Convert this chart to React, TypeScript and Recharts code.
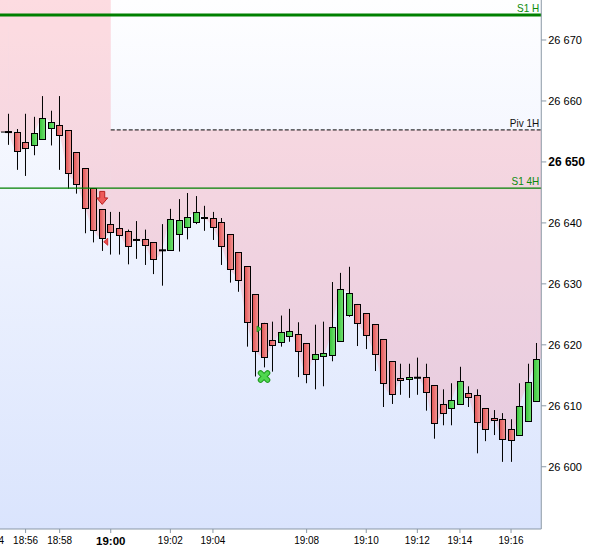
import React from 'react';
import { ComposedChart, XAxis, YAxis, Bar, Area, Scatter, ReferenceLine, ReferenceArea } from 'recharts';

// one bar per entry, oldest first
const opens = [
  26654.9, 26654.9, 26653.2, 26652.7, 26653.7, 26655.5, 26656.0, 26655.2, 26651.6, 26649.0,
  26645.7, 26642.2, 26639.8, 26639.1, 26638.6, 26637.2, 26637.3, 26636.8, 26635.5, 26635.5,
  26638.1, 26639.3, 26640.1, 26640.8, 26640.8, 26640.1, 26638.1, 26635.2, 26632.9, 26628.3,
  26623.6, 26620.8, 26620.4, 26621.3, 26621.8, 26620.3, 26617.7, 26618.1, 26618.3, 26620.6,
  26624.9, 26626.7, 26625.2, 26623.4, 26620.9, 26617.3, 26614.5, 26614.4, 26614.6, 26614.7,
  26613.4, 26610.3, 26609.6, 26610.3, 26612.1, 26611.8, 26609.6, 26608.0, 26607.8, 26606.2,
  26605.2, 26607.5, 26610.8,
];
const highs = [
  26657.9, 26655.4, 26657.9, 26657.4, 26660.8, 26658.4, 26660.8, 26655.2, 26651.6, 26649.0,
  26645.7, 26642.2, 26641.8, 26641.8, 26638.9, 26640.3, 26638.9, 26636.8, 26639.8, 26642.3,
  26643.9, 26644.9, 26644.4, 26642.8, 26641.8, 26640.8, 26638.1, 26635.2, 26632.9, 26628.3,
  26623.6, 26623.8, 26624.8, 26625.9, 26623.7, 26620.3, 26623.3, 26623.8, 26630.3, 26631.8,
  26632.8, 26626.7, 26625.2, 26623.4, 26620.9, 26617.3, 26616.9, 26616.9, 26617.9, 26616.9,
  26613.4, 26612.7, 26613.7, 26616.4, 26613.2, 26612.7, 26609.6, 26609.3, 26608.8, 26607.8,
  26613.7, 26616.9, 26620.3,
];
const lows = [
  26652.8, 26648.7, 26647.7, 26651.1, 26653.7, 26652.7, 26648.7, 26645.6, 26644.8, 26638.3,
  26636.8, 26635.4, 26634.8, 26634.8, 26633.2, 26634.1, 26633.1, 26631.6, 26629.7, 26635.5,
  26635.3, 26637.3, 26639.8, 26638.7, 26637.2, 26633.1, 26630.2, 26628.7, 26619.7, 26614.8,
  26616.3, 26615.6, 26619.7, 26620.5, 26614.7, 26613.7, 26612.7, 26613.2, 26617.3, 26620.6,
  26624.6, 26619.8, 26619.3, 26615.7, 26609.8, 26610.3, 26611.8, 26611.3, 26611.8, 26609.2,
  26604.6, 26606.8, 26606.8, 26610.3, 26609.8, 26602.2, 26604.2, 26605.2, 26600.8, 26600.8,
  26605.2, 26607.5, 26610.8,
];
const closes = [
  26654.9, 26651.8, 26652.2, 26654.7, 26657.2, 26656.5, 26654.4, 26648.1, 26646.4, 26642.4,
  26638.8, 26637.5, 26638.5, 26638.0, 26636.2, 26637.2, 26636.3, 26634.0, 26635.5, 26640.6,
  26640.4, 26640.9, 26641.8, 26640.8, 26639.3, 26636.2, 26632.4, 26630.6, 26623.7, 26619.0,
  26618.0, 26620.0, 26622.1, 26622.2, 26619.0, 26615.2, 26618.5, 26618.6, 26622.9, 26629.1,
  26628.5, 26623.6, 26621.6, 26618.5, 26613.7, 26611.9, 26614.2, 26614.7, 26614.6, 26612.2,
  26607.2, 26608.8, 26610.9, 26614.0, 26611.4, 26607.3, 26606.2, 26607.7, 26604.5, 26604.4,
  26610.0, 26613.9, 26617.7,
];

// time labels sit on the first bar of each minute
const tickBars = [-2, 2, 6, 12, 19, 24, 35, 42, 48, 53, 59];
const tickLabels = ['18:54', '18:56', '18:58', '19:00', '19:02', '19:04', '19:08', '19:10', '19:12', '19:14', '19:16'];
const priceTicks = [26600, 26610, 26620, 26630, 26640, 26650, 26660, 26670];

// pivot levels
const levelNames = ['S1 H', 'Piv 1H', 'S1 4H'];
const levelPrices = [26674.1, 26655.25, 26645.7];
const levelFromBar = [-3, 12, -3];
const oldPivPrice = 26654.9;
const oldPivToBar = 0.5;
const pivBar = 12; // new hourly pivot starts with the 19:00 bar

// signals
const signalBars = [11, 11, 29, 30];
const signalPrices = [26644.1, 26636.9, 26622.6, 26614.8];
const signalKinds = ['sellArrow', 'sellTri', 'buyTri', 'buyCross'];

const X_DOMAIN: [number, number] = [-3, 62.55];
const Y_DOMAIN: [number, number] = [26589.79, 26676.56];
const lastBar = closes.length - 1;

const LEVEL_STYLE: Record<string, { stroke: string; width: number; dash?: string; text: string }> = {
  'S1 H': { stroke: '#008000', width: 3, text: '#0a8a0a' },
  'Piv 1H': { stroke: '#000000', width: 1, dash: '4 2', text: '#111111' },
  'S1 4H': { stroke: '#008000', width: 1.2, text: '#0a8a0a' },
};

const PINK = 'rgb(250,120,135)';
const PINK_OPACITY = 0.25;
const AXIS = '#8a98a6';
const FONT = '"Liberation Sans", Arial, sans-serif';

const data = opens.map((open, i) => ({
  i,
  open,
  high: highs[i],
  low: lows[i],
  close: closes[i],
  range: [lows[i], highs[i]],
  before: i <= pivBar ? closes[i] : null,
  band: i >= pivBar ? [closes[i], levelPrices[1]] : null,
}));

const signals = signalBars.map((i, k) => ({ i, price: signalPrices[k], kind: signalKinds[k] }));

const Candle = (props: any) => {
  const { x, y, width, height, payload } = props;
  if (x == null || payload == null) return null;
  const { open, high, low, close } = payload;
  const top = Math.min(y, y + height);
  const k = Math.abs(height) / (high - low);
  const py = (v: number) => top + (high - v) * k;
  const cx = Math.round(x + width / 2) + 0.5;
  const yo = py(open);
  const yc = py(close);
  const bodyTop = Math.min(yo, yc);
  const bodyH = Math.abs(yo - yc);
  const up = close > open;
  return (
    <g>
      <line x1={cx} x2={cx} y1={py(high)} y2={py(low)} stroke="#000" strokeWidth={1} />
      {bodyH < 1 ? (
        <rect x={cx - 3.5} y={yc - 1} width={7} height={2} fill="#000" />
      ) : (
        <rect
          x={cx - 3}
          y={Math.round(bodyTop) + 0.5}
          width={6}
          height={Math.max(1, Math.round(bodyH))}
          fill={up ? 'url(#upBody)' : 'url(#downBody)'}
          stroke="#000"
          strokeWidth={1}
        />
      )}
    </g>
  );
};

const Signal = (props: any) => {
  const { cx, cy, payload } = props;
  if (cx == null) return null;
  switch (payload.kind) {
    case 'sellArrow':
      return (
        <path
          d={`M${cx - 2.5},${cy - 6.5} h5 v6.5 h3 l-5.5,6.5 l-5.5,-6.5 h3 z`}
          fill="#ee5a5a"
          stroke="#b82020"
          strokeWidth={1}
        />
      );
    case 'sellTri':
      return <path d={`M${cx + 1.5},${cy} L${cx + 5.5},${cy - 3.5} L${cx + 5.5},${cy + 3.5} z`} fill="#ee4a4a" stroke="#c02020" strokeWidth={0.8} />;
    case 'buyTri':
      return <path d={`M${cx + 1.5},${cy - 3} L${cx + 6},${cy} L${cx + 1.5},${cy + 3} z`} fill="#3cc83c" stroke="#1a8a1a" strokeWidth={0.8} />;
    case 'buyCross':
      return (
        <g>
          <path d={`M${cx - 3.5},${cy - 3.5} L${cx + 3.5},${cy + 3.5} M${cx + 3.5},${cy - 3.5} L${cx - 3.5},${cy + 3.5}`} stroke="#1f9a1f" strokeWidth={5.5} strokeLinecap="round" />
          <path d={`M${cx - 3.5},${cy - 3.5} L${cx + 3.5},${cy + 3.5} M${cx + 3.5},${cy - 3.5} L${cx - 3.5},${cy + 3.5}`} stroke="#4fd84f" strokeWidth={3.5} strokeLinecap="round" />
        </g>
      );
    default:
      return null;
  }
};

const PriceTick = (props: any) => {
  const { x, y, payload } = props;
  const v = payload.value as number;
  const bold = v === 26650;
  const s = String(v);
  return (
    <text x={x} y={y} dy="0.36em" textAnchor="start" fontFamily={FONT} fontSize={bold ? 12 : 11} fontWeight={bold ? 'bold' : 'normal'} fill="#000">
      {s.slice(0, 2) + ' ' + s.slice(2)}
    </text>
  );
};

const TimeTick = (props: any) => {
  const { x, y, payload } = props;
  const label = tickLabels[tickBars.indexOf(payload.value)] ?? '';
  const bold = label === '19:00';
  return (
    <text x={x} y={y} dy="0.71em" textAnchor="middle" fontFamily={FONT} fontSize={bold ? 11.5 : 10} fontWeight={bold ? 'bold' : 'normal'} fill="#000">
      {label}
    </text>
  );
};

const levelLabel = (name: string) => (p: any) => {
  const vb = p.viewBox;
  if (!vb) return null;
  return (
    <text x={vb.x + vb.width - 2} y={vb.y - 3} textAnchor="end" fontFamily={FONT} fontSize={10} fill={LEVEL_STYLE[name].text}>
      {name}
    </text>
  );
};

export default function App() {
  return (
    <div style={{ position: 'absolute', left: 0, top: 0, width: 590, height: 550, overflow: 'hidden', background: '#fff' }}>
      <div
        style={{
          position: 'absolute',
          left: 0,
          top: 0,
          width: 541,
          height: 529,
          background: 'linear-gradient(to bottom, #fefeff 0%, #dae4fd 100%)',
        }}
      />
      <div style={{ position: 'absolute', left: -17.28, top: 0 }}>
        <ComposedChart width={607.28} height={550} data={data} margin={{ top: 0, right: 0, bottom: 0, left: 0 }} style={{ fontFamily: FONT }}>
          <defs>
            <linearGradient id="downBody" x1="0" y1="0" x2="1" y2="0">
              <stop offset="0%" stopColor="#e05050" />
              <stop offset="100%" stopColor="#f49a9a" />
            </linearGradient>
            <linearGradient id="upBody" x1="0" y1="0" x2="1" y2="0">
              <stop offset="0%" stopColor="#38c238" />
              <stop offset="100%" stopColor="#74e474" />
            </linearGradient>
          </defs>
          <XAxis
            dataKey="i"
            type="number"
            domain={X_DOMAIN}
            allowDataOverflow
            ticks={tickBars}
            interval={0}
            height={21}
            tick={<TimeTick />}
            tickSize={4}
            tickMargin={4}
            axisLine={{ stroke: AXIS }}
            tickLine={{ stroke: AXIS }}
          />
          <YAxis
            orientation="right"
            type="number"
            domain={Y_DOMAIN}
            allowDataOverflow
            ticks={priceTicks}
            interval={0}
            width={49}
            tick={<PriceTick />}
            tickSize={5}
            tickMargin={2}
            axisLine={{ stroke: AXIS }}
            tickLine={{ stroke: AXIS }}
          />
          {/* shading carried out to the plot edges beyond the first and last bar */}
          <ReferenceArea x1={X_DOMAIN[0]} x2={0} y1={closes[0]} y2={Y_DOMAIN[1]} fill={PINK} fillOpacity={PINK_OPACITY} stroke="none" />
          <ReferenceArea x1={lastBar} x2={X_DOMAIN[1]} y1={closes[lastBar]} y2={levelPrices[1]} fill={PINK} fillOpacity={PINK_OPACITY} stroke="none" />
          <Area
            dataKey="before"
            type="monotone"
            baseValue="dataMax"
            stroke="none"
            fill={PINK}
            fillOpacity={PINK_OPACITY}
            dot={false}
            activeDot={false}
            isAnimationActive={false}
          />
          <Area
            dataKey="band"
            type="monotone"
            stroke="none"
            fill={PINK}
            fillOpacity={PINK_OPACITY}
            dot={false}
            activeDot={false}
            isAnimationActive={false}
          />
          <ReferenceLine
            segment={[
              { x: X_DOMAIN[0], y: oldPivPrice },
              { x: oldPivToBar, y: oldPivPrice },
            ]}
            stroke="#000"
            strokeDasharray="4 2"
          />
          {levelNames.map((name, k) => (
            <ReferenceLine
              key={name}
              segment={[
                { x: levelFromBar[k], y: levelPrices[k] },
                { x: X_DOMAIN[1], y: levelPrices[k] },
              ]}
              stroke={LEVEL_STYLE[name].stroke}
              strokeWidth={LEVEL_STYLE[name].width}
              strokeDasharray={LEVEL_STYLE[name].dash}
              label={levelLabel(name)}
            />
          ))}
          <Bar dataKey="range" barSize={6} shape={<Candle />} isAnimationActive={false} />
          <Scatter data={signals} dataKey="price" shape={<Signal />} isAnimationActive={false} />
        </ComposedChart>
      </div>
    </div>
  );
}
